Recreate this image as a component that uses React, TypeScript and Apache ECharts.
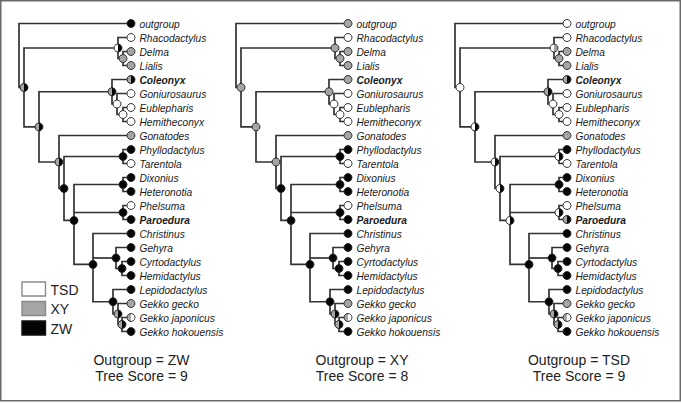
import React, { useEffect, useRef } from 'react';
import * as echarts from 'echarts';

// ---------- data ----------
const leafNames = [
  'outgroup', 'Rhacodactylus', 'Delma', 'Lialis', 'Coleonyx', 'Goniurosaurus',
  'Eublepharis', 'Hemitheconyx', 'Gonatodes', 'Phyllodactylus', 'Tarentola',
  'Dixonius', 'Heteronotia', 'Phelsuma', 'Paroedura', 'Christinus', 'Gehyra',
  'Cyrtodactylus', 'Hemidactylus', 'Lepidodactylus', 'Gekko gecko',
  'Gekko japonicus', 'Gekko hokouensis',
];
const boldLeaves = ['Coleonyx', 'Paroedura'];
const leafDepth = 112;

const nodeIds = ['root', 'I', 'Py', 'DL', 'Necl', 'E1', 'E2', 'E3', 'G0', 'G1', 'P', 'G3', 'DH', 'PP', 'K', 'H1', 'H2', 'L1', 'L2', 'L3'];
const nodeDepths = [0, 5, 99, 104, 20, 93, 98, 104, 40, 45, 104, 55, 104, 104, 74, 97, 103, 94, 99, 103];
const nodeChildren = [
  ['outgroup', 'I'],
  ['Py', 'Necl'],
  ['Rhacodactylus', 'DL'],
  ['Delma', 'Lialis'],
  ['E1', 'G0'],
  ['Coleonyx', 'E2'],
  ['Goniurosaurus', 'E3'],
  ['Eublepharis', 'Hemitheconyx'],
  ['Gonatodes', 'G1'],
  ['P', 'G3'],
  ['Phyllodactylus', 'Tarentola'],
  ['DH', 'PP', 'K'],
  ['Dixonius', 'Heteronotia'],
  ['Phelsuma', 'Paroedura'],
  ['Christinus', 'H1', 'L1'],
  ['Gehyra', 'H2'],
  ['Cyrtodactylus', 'Hemidactylus'],
  ['Lepidodactylus', 'L2'],
  ['Gekko gecko', 'L3'],
  ['Gekko japonicus', 'Gekko hokouensis'],
];

// states: w = TSD, g = XY, b = ZW ; two letters = left half / right half
const leafStatesZW = ['b', 'w', 'g', 'g', 'gb', 'w', 'w', 'w', 'g', 'b', 'w', 'b', 'b', 'w', 'b', 'b', 'b', 'b', 'b', 'b', 'g', 'gw', 'b'];
const leafStatesXY = ['g', 'w', 'g', 'g', 'g', 'w', 'w', 'w', 'g', 'b', 'w', 'b', 'b', 'w', 'b', 'b', 'b', 'b', 'b', 'b', 'g', 'gw', 'b'];
const leafStatesTSD = ['w', 'w', 'g', 'g', 'gb', 'w', 'w', 'w', 'g', 'b', 'w', 'b', 'b', 'w', 'gb', 'b', 'b', 'b', 'b', 'b', 'g', 'gw', 'b'];

const nodeStatesZW = ['', 'gb', 'wb', 'g', 'gb', 'gb', 'w', 'w', 'gb', 'b', 'b', 'b', 'b', 'b', 'b', 'b', 'b', 'b', 'gb', 'gb'];
const nodeStatesXY = ['', 'g', 'g', 'g', 'g', 'g', 'w', 'w', 'g', 'b', 'b', 'b', 'b', 'b', 'b', 'b', 'b', 'b', 'gb', 'gb'];
const nodeStatesTSD = ['', 'w', 'wg', 'g', 'wb', 'gb', 'w', 'w', 'wb', 'wb', 'wb', 'wb', 'b', 'wb', 'b', 'b', 'b', 'b', 'gb', 'gb'];

const panelOutgroups = ['ZW', 'XY', 'TSD'];
const treeScores = [9, 8, 9];
const legendLabels = ['TSD', 'XY', 'ZW'];

// ---------- styles ----------
const stateColor: Record<string, string> = { w: '#ffffff', g: '#a5a5a5', b: '#050505' };
const panelLefts = [19, 236, 455];
const panelCaptionX = [141.5, 362, 579];
const FONT = '"Liberation Sans", Arial, Helvetica, sans-serif';

// ---------- layout ----------
type Pos = { x: number; y: number };
function layoutTree(): Record<string, Pos> {
  const pos: Record<string, Pos> = {};
  leafNames.forEach((n, i) => { pos[n] = { x: leafDepth, y: i }; });
  const get = (id: string): Pos => {
    if (pos[id]) return pos[id];
    const i = nodeIds.indexOf(id);
    const ys = nodeChildren[i].map((c) => get(c).y);
    pos[id] = { x: nodeDepths[i], y: ys.reduce((a, b) => a + b, 0) / ys.length };
    return pos[id];
  };
  nodeIds.forEach((id) => get(id));
  return pos;
}

export default function App() {
  const ref = useRef<HTMLDivElement>(null);
  useEffect(() => {
    document.body.style.margin = '0';
    if (!ref.current) return;
    const chart = echarts.init(ref.current, undefined, { renderer: 'svg' });
    const pos = layoutTree();
    const leafStates = [leafStatesZW, leafStatesXY, leafStatesTSD];
    const nodeStates = [nodeStatesZW, nodeStatesXY, nodeStatesTSD];

    const grids: any[] = [];
    const xAxes: any[] = [];
    const yAxes: any[] = [];
    const series: any[] = [];

    panelLefts.forEach((left, p) => {
      grids.push({ left, top: 23.5, width: leafDepth, height: 308 });
      xAxes.push({ type: 'value', gridIndex: p, min: 0, max: leafDepth, show: false });
      yAxes.push({ type: 'value', gridIndex: p, min: 0, max: leafNames.length - 1, inverse: true, show: false });

      // branches
      const branchData = nodeIds.map((id, i) => [pos[id].x, pos[id].y, i]);
      series.push({
        type: 'custom',
        xAxisIndex: p,
        yAxisIndex: p,
        silent: true,
        z: 2,
        encode: { x: 0, y: 1 },
        data: branchData,
        renderItem: (params: any, api: any) => {
          const i = api.value(2);
          const id = nodeIds[i];
          const np = api.coord([pos[id].x, pos[id].y]);
          const kids = nodeChildren[i].map((c) => api.coord([pos[c].x, pos[c].y]));
          const first = kids[0];
          const last = kids[kids.length - 1];
          const lineStyle = { stroke: '#333333', lineWidth: 1.7, fill: null, lineJoin: 'miter' };
          const els: any[] = [
            {
              type: 'polyline',
              shape: { points: [[first[0], first[1]], [np[0], first[1]], [np[0], last[1]], [last[0], last[1]]] },
              style: lineStyle,
            },
          ];
          kids.slice(1, -1).forEach((k) => {
            els.push({ type: 'line', shape: { x1: np[0], y1: k[1], x2: k[0], y2: k[1] }, style: lineStyle });
          });
          return { type: 'group', children: els };
        },
      });

      // node / leaf circles + leaf labels
      const items: { id: string; code: string; leaf: boolean }[] = [];
      nodeIds.forEach((id, i) => { if (i > 0) items.push({ id, code: nodeStates[p][i], leaf: false }); });
      leafNames.forEach((n, i) => items.push({ id: n, code: leafStates[p][i], leaf: true }));
      series.push({
        type: 'custom',
        xAxisIndex: p,
        yAxisIndex: p,
        silent: true,
        z: 3,
        encode: { x: 0, y: 1 },
        data: items.map((it) => [pos[it.id].x, pos[it.id].y]),
        renderItem: (params: any, api: any) => {
          const it = items[params.dataIndex];
          const c = api.coord([api.value(0), api.value(1)]);
          const r = 4;
          const els: any[] = [];
          const right = it.code.length > 1 ? it.code[1] : it.code[0];
          els.push({ type: 'circle', shape: { cx: c[0], cy: c[1], r }, style: { fill: stateColor[right], stroke: 'none' } });
          if (it.code.length > 1) {
            els.push({
              type: 'sector',
              shape: { cx: c[0], cy: c[1], r0: 0, r, startAngle: Math.PI / 2, endAngle: (3 * Math.PI) / 2, clockwise: true },
              style: { fill: stateColor[it.code[0]], stroke: 'none' },
            });
          }
          els.push({ type: 'circle', shape: { cx: c[0], cy: c[1], r }, style: { fill: 'none', stroke: '#222222', lineWidth: 0.9 } });
          if (it.leaf) {
            els.push({
              type: 'text',
              x: c[0] + 8.5,
              y: c[1] + 0.5,
              style: {
                text: it.id,
                fill: '#1a1a1a',
                fontSize: 10.2,
                fontFamily: FONT,
                fontStyle: 'italic',
                fontWeight: boldLeaves.includes(it.id) ? 'bold' : 'normal',
                align: 'left',
                verticalAlign: 'middle',
              },
            });
          }
          return { type: 'group', children: els };
        },
      });
    });

    const graphic: any[] = [
      {
        type: 'rect',
        shape: { x: 0.75, y: 0.75, width: 679.5, height: 400 },
        style: { fill: 'none', stroke: '#6a6a6a', lineWidth: 1.5 },
        silent: true,
      },
    ];
    panelOutgroups.forEach((o, p) => {
      graphic.push({
        type: 'text', x: panelCaptionX[p], y: 359.5,
        style: { text: `Outgroup = ${o}`, fontSize: 14, fontFamily: FONT, fill: '#222', align: 'center', verticalAlign: 'middle' },
      });
      graphic.push({
        type: 'text', x: panelCaptionX[p], y: 375.5,
        style: { text: `Tree Score = ${treeScores[p]}`, fontSize: 14, fontFamily: FONT, fill: '#222', align: 'center', verticalAlign: 'middle' },
      });
    });
    const legendFill = [stateColor.w, stateColor.g, stateColor.b];
    legendLabels.forEach((lab, i) => {
      const y = 282 + i * 19.5;
      graphic.push({
        type: 'rect',
        shape: { x: 22, y, width: 23.5, height: 14 },
        style: { fill: legendFill[i], stroke: i === 2 ? '#111' : '#8a8a8a', lineWidth: 1.4 },
      });
      graphic.push({
        type: 'text', x: 50.5, y: y + 7.5,
        style: { text: lab, fontSize: 14, fontFamily: FONT, fill: '#222', align: 'left', verticalAlign: 'middle' },
      });
    });

    chart.setOption({
      animation: false,
      backgroundColor: '#ffffff',
      grid: grids,
      xAxis: xAxes,
      yAxis: yAxes,
      series,
      graphic,
    });
    return () => chart.dispose();
  }, []);
  return <div ref={ref} style={{ width: 681, height: 403 }} />;
}
